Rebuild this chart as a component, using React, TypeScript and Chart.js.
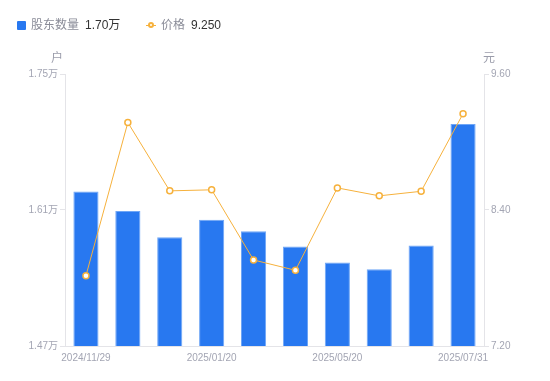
import React, { useEffect, useRef } from "react";
import { Chart, registerables } from "chart.js";

Chart.register(...registerables);

const categories = [
  "2024/11/29",
  "2024/12/20",
  "2024/12/31",
  "2025/01/20",
  "2025/03/10",
  "2025/03/31",
  "2025/05/20",
  "2025/06/10",
  "2025/06/30",
  "2025/07/31",
];
const holders = [1.629, 1.609, 1.582, 1.6, 1.588, 1.5725, 1.556, 1.549, 1.5735, 1.6985];
const prices = [7.82, 9.172, 8.569, 8.578, 7.959, 7.868, 8.595, 8.525, 8.565, 9.25];
const shownLabelIdx = [0, 3, 6, 9];
const leftTicks = [1.47, 1.61, 1.75];
const rightTicks = [7.2, 8.4, 9.6];

const BLUE = "#2878f0";
const ORANGE = "#f6b13c";
const TICK = "#a3a5b3";
const AXIS = "#e4e4e8";
const FONT = "'Liberation Sans', 'Noto Sans CJK SC', sans-serif";

const unitPlugin = {
  id: "unitTitles",
  afterDraw(chart: any) {
    const { ctx, chartArea } = chart;
    ctx.save();
    ctx.fillStyle = "#9a9caa";
    ctx.font = `12px ${FONT}`;
    ctx.textAlign = "center";
    ctx.textBaseline = "middle";
    ctx.fillText("户", chartArea.left - 8, 59);
    ctx.fillText("元", chartArea.right + 5, 59);
    ctx.restore();
  },
};

export default function App() {
  const ref = useRef<HTMLCanvasElement>(null);
  useEffect(() => {
    if (!ref.current) return;
    const chart = new Chart(ref.current, {
      type: "bar",
      data: {
        labels: categories,
        datasets: [
          {
            type: "line",
            label: "价格",
            data: prices,
            yAxisID: "y1",
            borderColor: ORANGE,
            borderWidth: 1,
            pointRadius: 3,
            pointBorderWidth: 1.5,
            pointBackgroundColor: "#ffffff",
            pointBorderColor: ORANGE,
            tension: 0,
            order: 0,
          } as any,
          {
            type: "bar",
            label: "股东数量",
            data: holders,
            yAxisID: "y",
            backgroundColor: BLUE,
            borderColor: "#6fa6f6",
            borderWidth: { top: 1, left: 1, right: 1, bottom: 0 },
            barPercentage: 0.6,
            categoryPercentage: 1,
            order: 1,
          } as any,
        ],
      },
      options: {
        responsive: false,
        animation: false,
        layout: { padding: { top: 74, left: 0, right: 0, bottom: 0 } },
        plugins: { legend: { display: false }, tooltip: { enabled: false } },
        scales: {
          x: {
            grid: { display: false, drawTicks: false },
            border: { display: true, color: AXIS },
            ticks: {
              autoSkip: false,
              maxRotation: 0,
              color: TICK,
              font: { size: 10, family: FONT },
              padding: 6,
              callback: (_v: any, i: number) => (shownLabelIdx.includes(i) ? categories[i] : ""),
            },
            afterFit: (s: any) => {
              s.height = 35;
            },
          },
          y: {
            position: "left",
            min: 1.47,
            max: 1.75,
            afterBuildTicks: (s: any) => {
              s.ticks = leftTicks.map((v) => ({ value: v }));
            },
            grid: { drawOnChartArea: false, drawTicks: true, tickLength: 5, color: AXIS },
            border: { display: true, color: AXIS },
            ticks: {
              color: TICK,
              font: { size: 10, family: FONT },
              padding: 2,
              callback: (v: any) => Number(v).toFixed(2) + "万",
            },
            afterFit: (s: any) => {
              s.width = 65;
            },
          },
          y1: {
            position: "right",
            min: 7.2,
            max: 9.6,
            afterBuildTicks: (s: any) => {
              s.ticks = rightTicks.map((v) => ({ value: v }));
            },
            grid: { drawOnChartArea: false, drawTicks: true, tickLength: 5, color: AXIS },
            border: { display: true, color: AXIS },
            ticks: {
              color: TICK,
              font: { size: 10, family: FONT },
              padding: 2,
              callback: (v: any) => Number(v).toFixed(2),
            },
            afterFit: (s: any) => {
              s.width = 66;
            },
          },
        },
      },
      plugins: [unitPlugin],
    });
    return () => chart.destroy();
  }, []);

  const labelStyle: React.CSSProperties = {
    position: "absolute",
    top: 17,
    fontSize: 12,
    lineHeight: "16px",
    fontFamily: FONT,
    whiteSpace: "nowrap",
  };

  return (
    <div style={{ position: "absolute", left: 0, top: 0, width: 550, height: 381, background: "#fff" }}>
      <canvas ref={ref} width={550} height={381} style={{ position: "absolute", left: 0, top: 0 }} />
      <div style={{ position: "absolute", left: 17, top: 21, width: 9, height: 9, background: BLUE, borderRadius: 1 }} />
      <span style={{ ...labelStyle, left: 31, color: "#8a8c98" }}>股东数量</span>
      <span style={{ ...labelStyle, left: 85, color: "#333" }}>1.70万</span>
      <div style={{ position: "absolute", left: 146, top: 24.5, width: 10, height: 1, background: ORANGE }} />
      <div
        style={{
          position: "absolute",
          left: 148,
          top: 22,
          width: 2,
          height: 2,
          border: `2px solid ${ORANGE}`,
          borderRadius: "50%",
          background: "#fff",
        }}
      />
      <span style={{ ...labelStyle, left: 161, color: "#8a8c98" }}>价格</span>
      <span style={{ ...labelStyle, left: 191, color: "#333" }}>9.250</span>
    </div>
  );
}
